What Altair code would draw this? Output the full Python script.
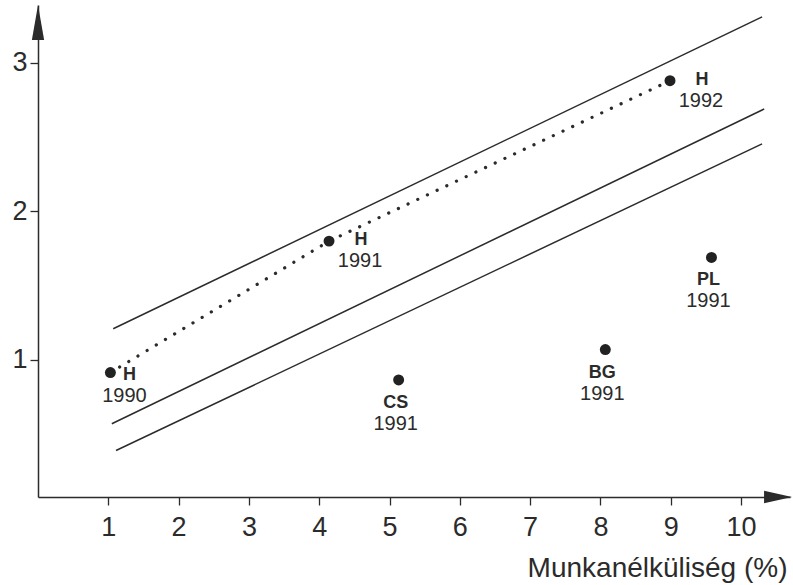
import altair as alt
import pandas as pd

# --- data ------------------------------------------------------------------
point_names = ["H", "H", "H", "CS", "BG", "PL"]
point_years = ["1990", "1991", "1992", "1991", "1991", "1991"]
point_x = [1.03, 4.14, 8.99, 5.13, 8.07, 9.58]
point_y = [0.915, 1.80, 2.88, 0.865, 1.07, 1.69]

band_ids = ["felső", "középső", "alsó"]
band_x1 = [1.07, 1.05, 1.11]
band_y1 = [1.21, 0.57, 0.39]
band_x2 = [10.30, 10.33, 10.30]
band_y2 = [3.31, 2.69, 2.455]

x_ticks = list(range(1, 11))
y_ticks = [1, 2, 3]
x_title = "Munkanélküliség (%)"
x_domain = [0, 10.697]
y_domain = [0.077, 3.39]

INK = "#2b2b2b"
FONT = "Liberation Sans"

points = pd.DataFrame({"name": point_names, "year": point_years,
                       "x": point_x, "y": point_y})
bands = pd.DataFrame({"id": band_ids, "x": band_x1, "y": band_y1,
                      "x2": band_x2, "y2": band_y2})
arrow_right = pd.DataFrame({"x": [x_domain[1] - 0.17], "y": [y_domain[0]]})
arrow_up = pd.DataFrame({"x": [x_domain[0]], "y": [y_domain[1] - 0.118]})

xs = alt.Scale(domain=x_domain, nice=False, zero=False)
ys = alt.Scale(domain=y_domain, nice=False, zero=False)

x_axis = alt.Axis(values=x_ticks, grid=False, domainColor=INK, domainWidth=1.5,
                  tickColor=INK, tickWidth=1.3, tickSize=8, labelFont=FONT,
                  labelFontSize=27, labelColor=INK, labelPadding=9,
                  labelFlush=False, format="d", title=x_title, titleFont=FONT,
                  titleFontSize=28, titleFontWeight="normal", titleColor=INK,
                  titleX=749, titleY=79, titleAlign="right",
                  titleBaseline="alphabetic")
y_axis = alt.Axis(values=y_ticks, grid=False, domainColor=INK, domainWidth=1.5,
                  tickColor=INK, tickWidth=1.3, tickSize=8, labelFont=FONT,
                  labelFontSize=27, labelColor=INK, labelPadding=3,
                  labelFlush=False, format="d", title="")

X = alt.X("x:Q", scale=xs, axis=x_axis)
Y = alt.Y("y:Q", scale=ys, axis=y_axis)

band_layer = alt.Chart(bands).mark_rule(color=INK, strokeWidth=1.5).encode(
    x=X, y=Y, x2="x2:Q", y2="y2:Q")

dotted = alt.Chart(points).transform_filter(alt.datum.name == "H").mark_line(
    color=INK, strokeWidth=3.2, strokeDash=[0.1, 10.6], strokeCap="round"
).encode(x=X, y=Y, order="year:O")

dots = alt.Chart(points).mark_circle(size=120, color="#222222", opacity=1).encode(
    x=X, y=Y)

def label(filter_expr, field, dx, dy, bold):
    return alt.Chart(points).transform_filter(filter_expr).mark_text(
        font=FONT, fontSize=18 if bold else 20,
        fontWeight="bold" if bold else "normal", color=INK,
        align="center", baseline="middle", dx=dx, dy=dy
    ).encode(x=X, y=Y, text=f"{field}:N")

is_h90 = "datum.name == 'H' && datum.year == '1990'"
is_h = "datum.name == 'H' && datum.year != '1990'"
is_other = "datum.name != 'H'"

labels = [
    label(is_h90, "name", 19, 2, True),
    label(is_h90, "year", 14, 23, False),
    label(is_h, "name", 32, -1, True),
    label(is_h, "year", 31, 20, False),
    label(is_other, "name", -3, 23, True),
    label(is_other, "year", -3, 44, False),
]

arrow_x = alt.Chart(arrow_right).mark_point(
    shape="M1,0L-1,-0.45L-1,0.45Z", size=784, filled=True, color=INK,
    opacity=1, strokeWidth=0).encode(x=X, y=Y)
arrow_y = alt.Chart(arrow_up).mark_point(
    shape="M0,-1L0.35,1L-0.35,1Z", size=1225, filled=True, color=INK,
    opacity=1, strokeWidth=0).encode(x=X, y=Y)

chart = alt.layer(band_layer, dotted, dots, *labels, arrow_x, arrow_y).properties(
    width=752, height=492,
    padding={"left": 38, "top": 5, "right": 3, "bottom": 88},
    autosize=alt.AutoSizeParams(type="none"),
    background="white",
).configure_view(stroke=None)

chart.save("out.html", embed_options={"renderer": "svg", "actions": False})
